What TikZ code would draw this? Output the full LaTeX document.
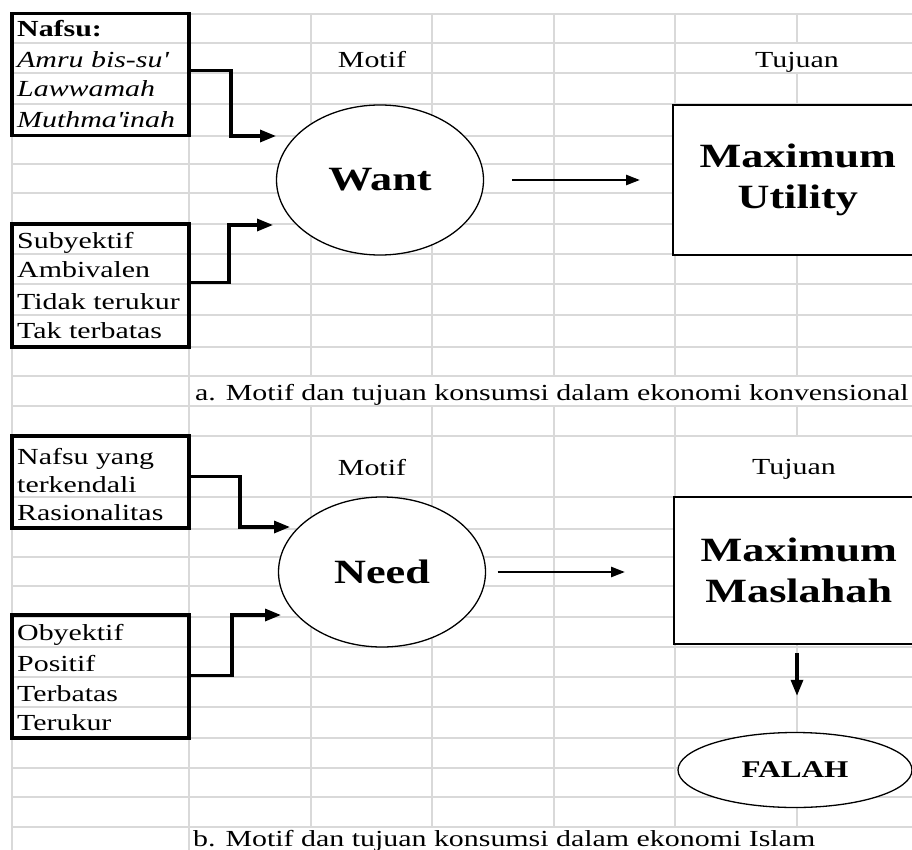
\documentclass[tikz,border=0pt]{standalone}
\usepackage{fontspec}
\setmainfont{Liberation Serif}[FakeStretch=1.3]
\usetikzlibrary{arrows.meta,calc,shapes.geometric}
\definecolor{gridc}{HTML}{D9D9D9}
\tikzset{
  sheet/.style  ={draw=gridc, line width=1.7pt},
  listbox/.style={draw, line width=3.2pt, minimum width=177pt, inner sep=0pt},
  cell/.style   ={anchor=base west, inner sep=0pt, font=\fontsize{23}{28}\selectfont},
  head/.style   ={anchor=base, inner sep=0pt, font=\fontsize{23}{28}\selectfont},
  blob/.style   ={ellipse, draw, fill=white, line width=1.3pt, inner sep=0pt,
                  minimum width=207pt, minimum height=150pt, font=\bfseries\fontsize{34}{41}\selectfont},
  % box runs off the right edge of the sheet
  goal/.style   ={draw, fill=white, line width=1.5pt, align=center, inner sep=0pt,
                  anchor=west, minimum width=320pt, font=\bfseries\fontsize{34}{41}\selectfont},
  link/.style   ={-{Triangle[length=16pt,width=12pt]}, line width=3.2pt},
  feed/.style   ={-{Triangle[length=14pt,width=10pt]}, line width=2.6pt},
}
\newcommand\offcut{\hspace*{-70pt}}
\begin{document}
\begin{tikzpicture}[x=1pt, y=-1pt]
  \useasboundingbox (0,0) rectangle (912,850);
  \clip (0,0) rectangle (912,850);
  % spreadsheet grid
  \foreach \y in {14,43,73,104,136,164,193,224,254,284,315,347,376,406,436,497,529,557,586,617,647,677,707,738,768,797,827}
    \draw[sheet] (12,\y) -- (912,\y);
  \foreach \x in {12,189}
    \draw[sheet] (\x,14) -- (\x,850);
  \foreach \x in {311,432,554,675}
    \draw[sheet] (\x,14) -- (\x,376) (\x,406) -- (\x,827);
  \draw[sheet] (797,14) -- (797,43) (797,73) -- (797,376) (797,406) -- (797,436) (797,497) -- (797,827);

  % a. konvensional
  \node[listbox, minimum height=122pt] (nafsu) at (100.5,74.5) {};
  \node[cell, font=\bfseries\fontsize{23}{28}\selectfont] (n0) at (17,37) {Nafsu:};
  \node[cell] (n1) at (17,68) {\itshape Amru bis-su\textquotesingle};
  \node[cell] (n2) at (17,97) {\itshape Lawwamah};
  \node[cell] (n3) at (17,128) {\itshape Muthma\textquotesingle inah};
  \node[listbox, minimum height=123pt] (sifat) at (100.5,285.5) {};
  \node[cell] (s1) at (17,248) {Subyektif};
  \node[cell] (s2) at (17,277) {Ambivalen};
  \node[cell] (s3) at (17,309) {Tidak terukur};
  \node[cell] (s4) at (17,338) {Tak terbatas};
  \node[head] (motifA) at (372,68) {Motif};
  \node[head] (tujuanA) at (797,68) {Tujuan};
  \node[blob] (want) at (380,180) {Want};
  \node[goal, minimum height=150pt] (utility) at (672,180) {\offcut Maximum\\\offcut Utility};
  \coordinate (inA1) at (276,136);
  \coordinate (inA2) at (273,225);
  \draw[link] ($(nafsu.north east)+(0,59)$) -| ($(inA1)+(-45,0)$) -- (inA1);
  \draw[link] ($(sifat.north east)+(0,60)$) -| ($(inA2)+(-44,0)$) -- (inA2);
  \draw[feed, shorten <=28pt, shorten >=32pt] (want.east) -- (utility.west);
  \node[cell] (capA) at (195,400) {a. Motif dan tujuan konsumsi dalam ekonomi konvensional};

  % b. Islam
  \node[listbox, minimum height=92pt] (kendali) at (100.5,482) {};
  \node[cell, anchor=west, align=left] (k1) at (17,471) {Nafsu yang\\terkendali};
  \node[cell] (k2) at (17,520) {Rasionalitas};
  \node[listbox, minimum height=123pt] (ciri) at (100.5,676.5) {};
  \node[cell] (c1) at (17,640) {Obyektif};
  \node[cell] (c2) at (17,671) {Positif};
  \node[cell] (c3) at (17,701) {Terbatas};
  \node[cell] (c4) at (17,730) {Terukur};
  \node[head] (motifB) at (372,475) {Motif};
  \node[head] (tujuanB) at (794,474) {Tujuan};
  \node[blob] (need) at (382,572) {Need};
  \node[goal, minimum height=147pt] (maslahah) at (673,570.5) {\offcut Maximum\\\offcut Maslahah};
  \node[blob, minimum width=234pt, minimum height=75pt, font=\bfseries\fontsize{24}{28}\selectfont] (falah) at (795,770) {FALAH};
  \coordinate (inB1) at (290,527);
  \coordinate (inB2) at (281,615);
  \draw[link] ($(kendali.north east)+(0,42)$) -| ($(inB1)+(-50,0)$) -- (inB1);
  \draw[link] ($(ciri.north east)+(0,62)$) -| ($(inB2)+(-49,0)$) -- (inB2);
  \draw[feed, shorten <=11.5pt, shorten >=48pt] (need.east) -- (need -| maslahah.west);
  \draw[link, shorten <=8pt, shorten >=36pt] ($(falah.north |- maslahah.south)+(2,0)$) -- ($(falah.north)+(2,0)$);
  \node[cell] (capB) at (193,846) {b. Motif dan tujuan konsumsi dalam ekonomi Islam};
\end{tikzpicture}
\end{document}
